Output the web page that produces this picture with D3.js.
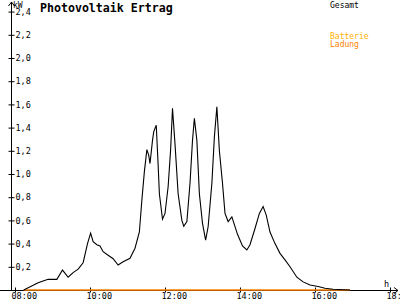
<!DOCTYPE html>
<html>
<head>
<meta charset="utf-8">
<script src="https://cdn.jsdelivr.net/npm/d3@7"></script>
<style>
  body { margin: 0; background: #fff; }
  svg { display: block; }
  text { font-family: "DejaVu Sans Mono", "Liberation Mono", monospace; }
</style>
</head>
<body>
<svg id="chart" width="400" height="300"></svg>
<script>
// Gesamt (kW)
const times = ["08:14","08:29","08:37","08:45","08:53","09:07","09:16","09:25","09:33","09:41",
  "09:49","09:56","10:01","10:05","10:11","10:16","10:21","10:29","10:37","10:45",
  "10:53","11:04","11:12","11:19","11:23","11:27","11:31","11:34","11:36","11:40",
  "11:42","11:46","11:49","11:51","11:56","12:00","12:05","12:09","12:12","12:16",
  "12:21","12:27","12:30","12:35","12:40","12:44","12:47","12:51","12:55","13:00",
  "13:05","13:09","13:15","13:19","13:23","13:27","13:32","13:36","13:41","13:47",
  "13:56","14:04","14:11","14:16","14:24","14:31","14:37","14:42","14:48","14:56",
  "15:04","15:12","15:20","15:31","15:41","15:52","16:05","16:16","16:29","16:56"];
const gesamt = [0,0.04,0.063,0.078,0.092,0.092,0.172,0.11,0.15,0.18,
  0.235,0.40,0.49,0.416,0.39,0.38,0.33,0.30,0.27,0.215,
  0.244,0.273,0.36,0.50,0.776,1.02,1.21,1.16,1.09,1.29,
  1.365,1.42,1.08,0.83,0.61,0.66,0.89,1.21,1.566,1.26,
  0.83,0.60,0.55,0.59,0.92,1.29,1.48,1.29,0.83,0.575,
  0.43,0.545,0.92,1.32,1.58,1.20,0.92,0.66,0.59,0.63,
  0.48,0.38,0.345,0.39,0.53,0.66,0.72,0.645,0.50,0.40,
  0.316,0.26,0.20,0.11,0.07,0.043,0.03,0.015,0.006,0];
const ladungTimes = ["08:14","16:56"];
const ladung = [0, 0];

const yTicks = [0.2,0.4,0.6,0.8,1.0,1.2,1.4,1.6,1.8,2.0,2.2,2.4];
const xTicks = [8,10,12,14,16,18];
const legend = [
  { name: "Gesamt", color: "#000000" },
  { name: "Batterie", color: "#ffb000" },
  { name: "Ladung", color: "#ff8000" }
];

const toHours = s => { const p = s.split(":"); return +p[0] + p[1] / 60; };

const svg = d3.select("#chart");
const x = d3.scaleLinear().domain([8, 18]).range([15, 390]);
const y = d3.scaleLinear().domain([0, 2.4]).range([290, 11.6]);
const axisX = 11.5;

// y axis
const yAxis = svg.append("g")
    .attr("transform", `translate(${axisX},0)`)
    .call(d3.axisRight(y).tickValues(yTicks).tickSize(3)
        .tickFormat(d => d3.format(".1f")(d).replace(".", ",")));
yAxis.select(".domain").remove();
yAxis.selectAll(".tick line").attr("x1", -3).attr("x2", 3).attr("stroke", "#000");
yAxis.selectAll(".tick text").attr("x", 4).attr("font-size", 8.5).attr("fill", "#000");

svg.append("line")
    .attr("x1", axisX).attr("x2", axisX).attr("y1", 2).attr("y2", 291)
    .attr("stroke", "#000");
svg.append("path")
    .attr("d", `M${axisX - 3},6 L${axisX},2 L${axisX + 3},6`)
    .attr("fill", "none").attr("stroke", "#000");

// x axis
const xAxis = svg.append("g")
    .attr("transform", "translate(0,290.5)")
    .call(d3.axisBottom(x).tickValues(xTicks).tickSize(3)
        .tickFormat(d => d3.format("02d")(d) + ":00"));
xAxis.select(".domain").remove();
xAxis.selectAll(".tick line").attr("y1", -3).attr("y2", 2).attr("stroke", "#000");
xAxis.selectAll(".tick text").attr("text-anchor", "start").attr("dx", -4)
    .attr("dy", 0).attr("y", 8.5).attr("font-size", 8.5).attr("fill", "#000");

svg.append("line")
    .attr("x1", 0).attr("x2", 398).attr("y1", 290.5).attr("y2", 290.5)
    .attr("stroke", "#000");
svg.append("path")
    .attr("d", "M394,287.5 L398,290.5 L394,293.5")
    .attr("fill", "none").attr("stroke", "#000");

svg.append("text").attr("x", 13).attr("y", 8).attr("font-size", 8).text("kW");
svg.append("text").attr("x", 384).attr("y", 287).attr("font-size", 8.5).text("h");

// series
const line = d3.line().x(d => x(d[0])).y(d => y(d[1]));

svg.append("path")
    .datum(ladungTimes.map((t, i) => [toHours(t), ladung[i]]))
    .attr("d", line)
    .attr("fill", "none").attr("stroke", legend[2].color).attr("stroke-width", 1.5);

svg.append("path")
    .datum(times.map((t, i) => [toHours(t), gesamt[i]]))
    .attr("d", line)
    .attr("fill", "none").attr("stroke", legend[0].color).attr("stroke-width", 1.1);

// title
svg.append("text").attr("x", 40).attr("y", 12)
    .attr("font-size", 11.6).attr("font-weight", "bold").text("Photovoltaik Ertrag");

// legend
svg.selectAll(".leg")
    .data(legend)
    .enter().append("text")
    .attr("class", "leg")
    .attr("x", 330)
    .attr("y", (d, i) => i === 0 ? 8 : 31 + i * 8)
    .attr("font-size", 8)
    .attr("fill", d => d.color)
    .text(d => d.name);
</script>
</body>
</html>
